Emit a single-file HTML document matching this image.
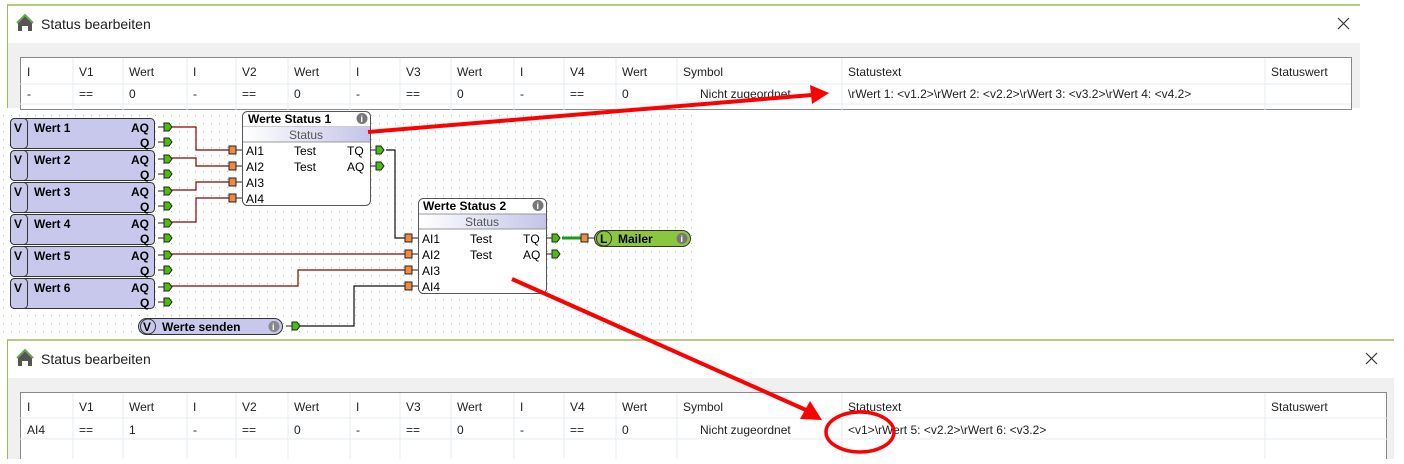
<!DOCTYPE html>
<html><head><meta charset="utf-8"><style>
body{margin:0;background:#fff;width:1404px;height:459px;overflow:hidden}
svg text{font-family:"Liberation Sans",sans-serif}
.d{font-size:12px;fill:#222}
.b{font-size:12px;font-weight:bold;fill:#000}
.n{font-size:12px;fill:#000}
</style></head><body>
<svg width="1404" height="459" viewBox="0 0 1404 459" xmlns="http://www.w3.org/2000/svg">
<defs>
<pattern id="dots" width="8" height="8" patternUnits="userSpaceOnUse"><rect x="3" y="3" width="1" height="1" fill="#bbb"/></pattern>
<linearGradient id="tg" x1="0" x2="1"><stop offset="0" stop-color="#fff"/><stop offset="1" stop-color="#c4c4ea"/></linearGradient>
<g id="inpin"><rect x="-1" y="-4" width="7" height="8" fill="#f08a3c" stroke="#222" stroke-width="1"/><path d="M6 0h6" stroke="#222"/></g>
<g id="outpin"><path d="M-12 0h6" stroke="#222"/><path d="M-6 -4h5l3 4l-3 4h-5z" fill="#4cbc10" stroke="#222" stroke-width="1"/></g>
</defs>

<!-- top dialog -->
<rect x="7" y="5" width="1353" height="103" fill="#fff"/>
<path d="M7 5H1360" stroke="#9bbb59" stroke-width="1.5"/>
<path d="M7.5 5V108" stroke="#9bbb59"/>
<rect x="8" y="43" width="1352" height="65" fill="#f0f0f0"/>
<path d="M18 31v-8l7-7l7 7v8h-4v-5h-6v5z" fill="#555"/><path d="M17 23l8-8l8 8" stroke="#6aa84f" stroke-width="2" fill="none"/>
<text x="41" y="29" style="font-size:14px;fill:#222">Status bearbeiten</text>
<path d="M1338 18l11 11M1349 18l-11 11" stroke="#333" stroke-width="1.2"/>
<rect x="20.5" y="57.5" width="1331" height="52" fill="#fff" stroke="#888"/>
<path d="M20 84H1351M20 104H1351" stroke="#e6ecf3"/>
<g stroke="#e6ecf3"><path d="M73 58v52M123 58v52M187 58v52M236 58v52M288 58v52M350 58v52M400 58v52M451 58v52M514 58v52M564 58v52M616 58v52M677 58v52M842 58v52M1265 58v52"/></g>
<g class="d">
<text x="27" y="76">I</text><text x="79" y="76">V1</text><text x="129" y="76">Wert</text><text x="193" y="76">I</text><text x="242" y="76">V2</text><text x="294" y="76">Wert</text><text x="356" y="76">I</text><text x="406" y="76">V3</text><text x="457" y="76">Wert</text><text x="520" y="76">I</text><text x="570" y="76">V4</text><text x="622" y="76">Wert</text><text x="683" y="76">Symbol</text><text x="848" y="76">Statustext</text><text x="1271" y="76">Statuswert</text>
<text x="27" y="98">-</text><text x="79" y="98">==</text><text x="129" y="98">0</text><text x="193" y="98">-</text><text x="242" y="98">==</text><text x="294" y="98">0</text><text x="356" y="98">-</text><text x="406" y="98">==</text><text x="457" y="98">0</text><text x="520" y="98">-</text><text x="570" y="98">==</text><text x="622" y="98">0</text><text x="700" y="98">Nicht zugeordnet</text><text x="848" y="98">\rWert 1: &lt;v1.2&gt;\rWert 2: &lt;v2.2&gt;\rWert 3: &lt;v3.2&gt;\rWert 4: &lt;v4.2&gt;</text>
</g>

<!-- diagram area -->
<rect x="0" y="108" width="692" height="231" fill="url(#dots)"/>

<!-- wires -->
<g fill="none" stroke="#8b0000" stroke-width="1.2">
<path d="M170 127H196V150H230"/><path d="M170 158H196V166H230"/><path d="M170 190H196V182H230"/><path d="M170 222H196V198H230"/>
<path d="M170 254H406"/><path d="M170 286H298V270H406"/>
</g>
<g fill="none" stroke="#111" stroke-width="1.2">
<path d="M386 150H395V238H406"/><path d="M298 326H354V286H406"/>
</g>
<path d="M562 238H582" stroke="#1a9a1a" stroke-width="3"/>

<!-- V blocks -->
<g>
<g transform="translate(0,0)">
</g>
</g>
<g id="vb">
<rect x="10.5" y="118.5" width="144" height="30" rx="4" fill="#c8c8ec" stroke="#333"/><rect x="10.5" y="118.5" width="17" height="30" rx="4" fill="#c8c8ec" stroke="#333"/>
<text x="14" y="132" class="b">V</text><text x="34" y="132" class="b">Wert 1</text><text x="131" y="132" class="b">AQ</text><text x="140" y="147" class="b">Q</text>
<use href="#outpin" x="170" y="127"/><use href="#outpin" x="170" y="142"/>
</g>
<g transform="translate(0,32)"><rect x="10.5" y="118.5" width="144" height="30" rx="4" fill="#c8c8ec" stroke="#333"/><rect x="10.5" y="118.5" width="17" height="30" rx="4" fill="#c8c8ec" stroke="#333"/><text x="14" y="132" class="b">V</text><text x="34" y="132" class="b">Wert 2</text><text x="131" y="132" class="b">AQ</text><text x="140" y="147" class="b">Q</text><use href="#outpin" x="170" y="127"/><use href="#outpin" x="170" y="142"/></g>
<g transform="translate(0,64)"><rect x="10.5" y="118.5" width="144" height="30" rx="4" fill="#c8c8ec" stroke="#333"/><rect x="10.5" y="118.5" width="17" height="30" rx="4" fill="#c8c8ec" stroke="#333"/><text x="14" y="132" class="b">V</text><text x="34" y="132" class="b">Wert 3</text><text x="131" y="132" class="b">AQ</text><text x="140" y="147" class="b">Q</text><use href="#outpin" x="170" y="127"/><use href="#outpin" x="170" y="142"/></g>
<g transform="translate(0,96)"><rect x="10.5" y="118.5" width="144" height="30" rx="4" fill="#c8c8ec" stroke="#333"/><rect x="10.5" y="118.5" width="17" height="30" rx="4" fill="#c8c8ec" stroke="#333"/><text x="14" y="132" class="b">V</text><text x="34" y="132" class="b">Wert 4</text><text x="131" y="132" class="b">AQ</text><text x="140" y="147" class="b">Q</text><use href="#outpin" x="170" y="127"/><use href="#outpin" x="170" y="142"/></g>
<g transform="translate(0,128)"><rect x="10.5" y="118.5" width="144" height="30" rx="4" fill="#c8c8ec" stroke="#333"/><rect x="10.5" y="118.5" width="17" height="30" rx="4" fill="#c8c8ec" stroke="#333"/><text x="14" y="132" class="b">V</text><text x="34" y="132" class="b">Wert 5</text><text x="131" y="132" class="b">AQ</text><text x="140" y="147" class="b">Q</text><use href="#outpin" x="170" y="127"/><use href="#outpin" x="170" y="142"/></g>
<g transform="translate(0,160)"><rect x="10.5" y="118.5" width="144" height="30" rx="4" fill="#c8c8ec" stroke="#333"/><rect x="10.5" y="118.5" width="17" height="30" rx="4" fill="#c8c8ec" stroke="#333"/><text x="14" y="132" class="b">V</text><text x="34" y="132" class="b">Wert 6</text><text x="131" y="132" class="b">AQ</text><text x="140" y="147" class="b">Q</text><use href="#outpin" x="170" y="127"/><use href="#outpin" x="170" y="142"/></g>

<!-- Werte senden -->
<rect x="138.5" y="318.5" width="144" height="16" rx="8" fill="#c8c8ec" stroke="#333"/>
<circle cx="148" cy="326.5" r="7.5" fill="#c8c8ec" stroke="#333"/>
<text x="143" y="331" class="b">V</text><text x="162" y="331" class="b">Werte senden</text>
<circle cx="274" cy="326.5" r="5.5" fill="#888"/><text x="272" y="330" style="font-size:9px;font-weight:bold;fill:#fff">i</text>
<use href="#outpin" x="298" y="326"/>

<!-- Werte Status 1 -->
<rect x="242.5" y="111.5" width="128" height="94" rx="5" fill="#fff" stroke="#555"/>
<path d="M243 127h127" stroke="#999"/>
<rect x="243" y="127" width="127" height="15" fill="url(#tg)"/>
<path d="M243 142h127" stroke="#999"/>
<text x="248" y="123" class="b">Werte Status 1</text>
<circle cx="362" cy="118.5" r="5.5" fill="#777"/><text x="360.5" y="122" style="font-size:9px;font-weight:bold;fill:#fff">i</text>
<text x="306" y="139" text-anchor="middle" style="font-size:12px;fill:#555">Status</text>
<text x="246" y="155" class="n">AI1</text><text x="294" y="155" class="n">Test</text><text x="347" y="155" class="n">TQ</text>
<text x="246" y="171" class="n">AI2</text><text x="294" y="171" class="n">Test</text><text x="347" y="171" class="n">AQ</text>
<text x="246" y="187" class="n">AI3</text><text x="246" y="203" class="n">AI4</text>
<use href="#inpin" x="230" y="150"/><use href="#inpin" x="230" y="166"/><use href="#inpin" x="230" y="182"/><use href="#inpin" x="230" y="198"/>
<use href="#outpin" x="382" y="150"/><use href="#outpin" x="382" y="166"/>

<!-- Werte Status 2 -->
<rect x="418.5" y="198.5" width="128" height="95" rx="5" fill="#fff" stroke="#555"/>
<rect x="419" y="214" width="127" height="15" fill="url(#tg)"/>
<path d="M419 214h127M419 229h127" stroke="#999"/>
<text x="423" y="210" class="b">Werte Status 2</text>
<circle cx="538" cy="205.5" r="5.5" fill="#777"/><text x="536.5" y="209" style="font-size:9px;font-weight:bold;fill:#fff">i</text>
<text x="482" y="226" text-anchor="middle" style="font-size:12px;fill:#555">Status</text>
<text x="422" y="243" class="n">AI1</text><text x="470" y="243" class="n">Test</text><text x="523" y="243" class="n">TQ</text>
<text x="422" y="259" class="n">AI2</text><text x="470" y="259" class="n">Test</text><text x="523" y="259" class="n">AQ</text>
<text x="422" y="275" class="n">AI3</text><text x="422" y="291" class="n">AI4</text>
<use href="#inpin" x="406" y="238"/><use href="#inpin" x="406" y="254"/><use href="#inpin" x="406" y="270"/><use href="#inpin" x="406" y="286"/>
<use href="#outpin" x="558" y="238"/><use href="#outpin" x="558" y="254"/>

<!-- Mailer -->
<use href="#inpin" x="582" y="238"/>
<rect x="594.5" y="230.5" width="96" height="16" rx="8" fill="#8cc63f" stroke="#333"/>
<circle cx="604" cy="238.5" r="7.5" fill="#8cc63f" stroke="#333"/>
<text x="600" y="243" class="b">L</text><text x="618" y="243" class="b">Mailer</text>
<circle cx="682" cy="238.5" r="5.5" fill="#777"/><text x="680.5" y="242" style="font-size:9px;font-weight:bold;fill:#fff">i</text>

<!-- bottom dialog -->
<rect x="7" y="340" width="1390" height="119" fill="#fff"/>
<path d="M7 340H1394" stroke="#9bbb59" stroke-width="1.5"/>
<path d="M7.5 340V459" stroke="#9bbb59"/>
<rect x="8" y="378" width="1386" height="81" fill="#f0f0f0"/>
<path d="M18 366v-8l7-7l7 7v8h-4v-5h-6v5z" fill="#555"/><path d="M17 358l8-8l8 8" stroke="#6aa84f" stroke-width="2" fill="none"/>
<text x="41" y="364" style="font-size:14px;fill:#222">Status bearbeiten</text>
<path d="M1366 353l11 11M1377 353l-11 11" stroke="#333" stroke-width="1.2"/>
<rect x="20.5" y="392.5" width="1366" height="70" fill="#fff" stroke="#888"/>
<path d="M20 418H1387M20 439H1387" stroke="#e6ecf3"/>
<g stroke="#e6ecf3"><path d="M73 393v66M123 393v66M187 393v66M236 393v66M288 393v66M350 393v66M400 393v66M451 393v66M514 393v66M564 393v66M616 393v66M677 393v66M842 393v66M1265 393v66"/></g>
<g class="d">
<text x="27" y="411">I</text><text x="79" y="411">V1</text><text x="129" y="411">Wert</text><text x="193" y="411">I</text><text x="242" y="411">V2</text><text x="294" y="411">Wert</text><text x="356" y="411">I</text><text x="406" y="411">V3</text><text x="457" y="411">Wert</text><text x="520" y="411">I</text><text x="570" y="411">V4</text><text x="622" y="411">Wert</text><text x="683" y="411">Symbol</text><text x="848" y="411">Statustext</text><text x="1271" y="411">Statuswert</text>
<text x="27" y="434">AI4</text><text x="79" y="434">==</text><text x="129" y="434">1</text><text x="193" y="434">-</text><text x="242" y="434">==</text><text x="294" y="434">0</text><text x="356" y="434">-</text><text x="406" y="434">==</text><text x="457" y="434">0</text><text x="520" y="434">-</text><text x="570" y="434">==</text><text x="622" y="434">0</text><text x="700" y="434">Nicht zugeordnet</text><text x="848" y="434">&lt;v1&gt;\rWert 5: &lt;v2.2&gt;\rWert 6: &lt;v3.2&gt;</text>
</g>

<!-- red annotations -->
<g stroke="#f00" stroke-width="4" fill="none">
<path d="M368 132L812 95"/>
<path d="M512 279L806 410"/>
<ellipse cx="860" cy="432" rx="34" ry="20" stroke-width="3.5"/>
</g>
<path d="M829 93L810 85L812 104z" fill="#f00"/>
<path d="M822 420L810 401L800 419z" fill="#f00"/>
</svg>
</body></html>
